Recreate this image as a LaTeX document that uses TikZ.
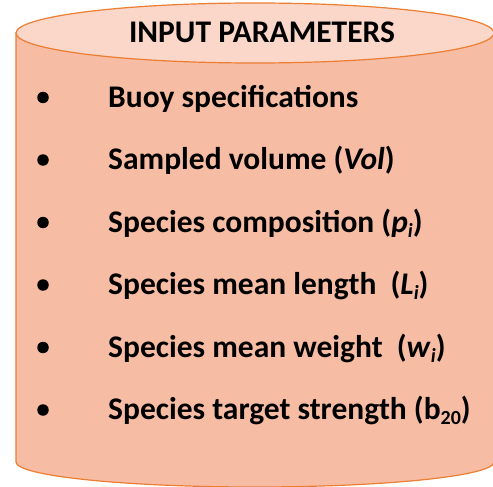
\documentclass[tikz,border=0pt]{standalone}
\usepackage{fontspec}
\setmainfont{Carlito}
\usetikzlibrary{positioning}

\definecolor{cuerpo}{HTML}{F7BCA4}
\definecolor{tapa}{HTML}{FAD7C9}
\definecolor{borde}{HTML}{ED7D31}

% subindice bajo, como en la diapositiva
\newcommand{\subidx}[1]{\raisebox{-5pt}{\fontsize{20}{20}\selectfont #1}}

\begin{document}
\begin{tikzpicture}[x=1pt, y=-1pt,
    every node/.style={font=\fontsize{31.5}{36}\selectfont\bfseries},
    punto/.style={circle, fill=black, inner sep=0pt, minimum size=11.5pt},
    item/.style={anchor=base west, inner sep=0pt}]
    \useasboundingbox (0,0) rectangle (493,487);

    % Cuerpo del cilindro
    \draw[line width=1.2pt, borde, fill=cuerpo] (16,33) -- (16,462)
        arc[start angle=180, end angle=0, x radius=239, y radius=25]
        -- (494,33) -- cycle;

    % Tapa
    \draw[line width=1.2pt, borde, fill=tapa] (255,33) ellipse[x radius=239, y radius=30];
    \node[anchor=base, inner sep=0pt] (titulo) at (262,43) {INPUT PARAMETERS};

    % Vinetas
    \node[punto] (p1) at (43,97.5) {};
    \node[punto] (p2) at (43,160) {};
    \node[punto] (p3) at (43,222.5) {};
    \node[punto] (p4) at (43,285) {};
    \node[punto] (p5) at (43,347.5) {};
    \node[punto] (p6) at (43,410) {};

    % Parametros
    \node[item] (buoy) at (108,107) {Buoy specifications};
    \node[item] (vol) at (108,169.5) {Sampled volume (\textit{Vol})};
    \node[item] (comp) at (108,232) {Species composition (\textit{p}\subidx{\textit{i}})};
    \node[item] (len) at (108,294.5) {Species mean length\ \ (\textit{L}\subidx{\textit{i}})};
    \node[item] (wgt) at (108,357) {Species mean weight\ \ (\textit{w}\subidx{\textit{i}})};
    \node[item] (ts) at (108,419.5) {Species target strength (b\subidx{20})};
\end{tikzpicture}
\end{document}
